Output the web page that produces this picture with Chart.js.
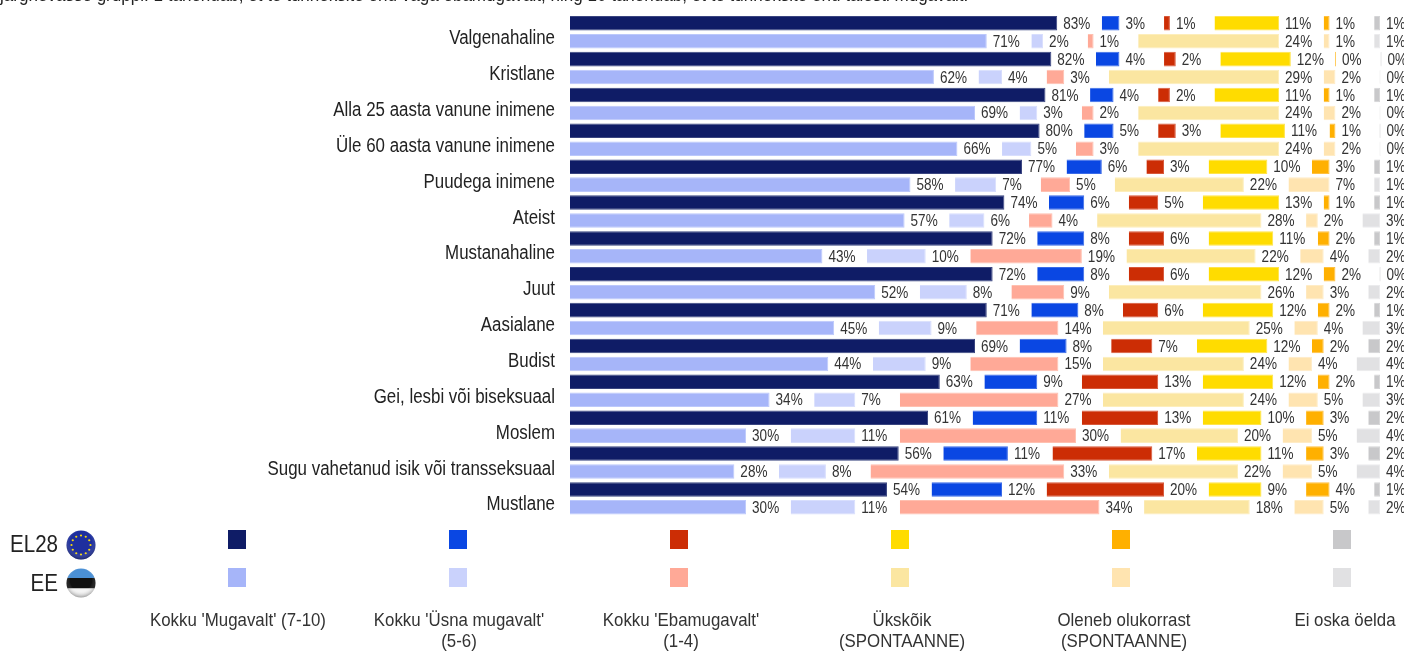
<!DOCTYPE html>
<html lang="et">
<head>
<meta charset="utf-8">
<title>Mugavustunne</title>
<script src="https://cdn.jsdelivr.net/npm/chart.js@4"></script>
<style>
  html, body { margin: 0; padding: 0; background: #fff; overflow: hidden; }
  #wrap { position: relative; width: 1404px; height: 651px; overflow: hidden; font-family: "Liberation Sans", sans-serif; color: #333; }
  #chart { position: absolute; left: 0; top: 0; }
  .question { position: absolute; left: 0; top: -15.5px; font-size: 19px; line-height: 20px; white-space: nowrap; color: #222; transform: scaleX(0.897); transform-origin: left; }
  .group { position: absolute; right: 1346px; font-size: 24px; line-height: 28px; color: #222; transform: scaleX(0.857); transform-origin: right; }
  .flag { position: absolute; left: 66px; width: 30px; height: 30px; }
  .swatch { position: absolute; width: 18.7px; height: 18.7px; }
  .legend-label { position: absolute; width: 240px; text-align: center; font-size: 19px; line-height: 21px; top: 609px; color: #333; transform: scaleX(0.887); }
</style>
</head>
<body>
<div id="wrap">
  <canvas id="chart" width="1404" height="651"></canvas>
  <div class="question">järgnevasse gruppi. 1 tähendab, et te tunneksite end väga ebamugavalt, ning 10 tähendab, et te tunneksite end täiesti mugavalt.</div>
  <div class="group" style="top:530px">EL28</div>
  <div class="group" style="top:569px">EE</div>
  <svg class="flag" style="top:530px" viewBox="0 0 30 30" id="flag-eu"></svg>
  <svg class="flag" style="top:568px" viewBox="0 0 30 30" id="flag-ee"></svg>
  <div id="legend"></div>
</div>
<script>
const categories = ['Valgenahaline', 'Kristlane', 'Alla 25 aasta vanune inimene', 'Üle 60 aasta vanune inimene', 'Puudega inimene', 'Ateist', 'Mustanahaline', 'Juut', 'Aasialane', 'Budist', 'Gei, lesbi või biseksuaal', 'Moslem', 'Sugu vahetanud isik või transseksuaal', 'Mustlane'];
const answers = ["Kokku 'Mugavalt' (7-10)", "Kokku 'Üsna mugavalt'<br>(5-6)", "Kokku 'Ebamugavalt'<br>(1-4)", 'Ükskõik<br>(SPONTAANNE)', 'Oleneb olukorrast<br>(SPONTAANNE)', 'Ei oska öelda'];

// EL28
const eu_mugavalt = [83, 82, 81, 80, 77, 74, 72, 72, 71, 69, 63, 61, 56, 54];
const eu_usna = [3, 4, 4, 5, 6, 6, 8, 8, 8, 8, 9, 11, 11, 12];
const eu_ebamugavalt = [1, 2, 2, 3, 3, 5, 6, 6, 6, 7, 13, 13, 17, 20];
const eu_ukskoik = [11, 12, 11, 11, 10, 13, 11, 12, 12, 12, 12, 10, 11, 9];
const eu_oleneb = [1, 0, 1, 1, 3, 1, 2, 2, 2, 2, 2, 3, 3, 4];
const eu_eioska = [1, 0, 1, 0, 1, 1, 1, 0, 1, 2, 1, 2, 2, 1];

// EE
const ee_mugavalt = [71, 62, 69, 66, 58, 57, 43, 52, 45, 44, 34, 30, 28, 30];
const ee_usna = [2, 4, 3, 5, 7, 6, 10, 8, 9, 9, 7, 11, 8, 11];
const ee_ebamugavalt = [1, 3, 2, 3, 5, 4, 19, 9, 14, 15, 27, 30, 33, 34];
const ee_ukskoik = [24, 29, 24, 24, 22, 28, 22, 26, 25, 24, 24, 20, 22, 18];
const ee_oleneb = [1, 2, 2, 2, 7, 2, 4, 3, 4, 4, 5, 5, 5, 5];
const ee_eioska = [1, 0, 0, 0, 1, 3, 2, 2, 3, 4, 3, 4, 4, 2];

const euColors = ['#0f1c66', '#0a47e3', '#cc2d05', '#ffdc00', '#ffb000', '#c8c8ca'];
const eeColors = ['#a6b5f9', '#cad2fc', '#ffa997', '#fbe6a1', '#ffe4b0', '#e1e1e3'];
const euEdges = ['#3a4580', '#3a6be8', '#d8583a', '#ffe44a', '#ffc040', '#d4d4d6'];
const eeEdges = ['#bcc8fb', '#d8defd', '#ffc0b0', '#fdeebb', '#ffecc6', '#ebebed'];
const labelGap = 7.6; // room left after each segment for its percent label

function stackDatasets(stack, series, colors, edges) {
  const out = [];
  series.forEach((data, i) => {
    out.push({ data, stack, backgroundColor: colors[i], borderColor: edges[i], borderWidth: 1, minBarLength: 1, isValue: true });
    if (i < series.length - 1) {
      out.push({ data: categories.map(() => labelGap), stack, backgroundColor: 'transparent', isValue: false });
    }
  });
  return out;
}

// the source uses a squeezed Arial, no narrow font is installed so scale it
function narrowText(ctx, text, x, y, squeeze) {
  ctx.save();
  ctx.translate(x, y);
  ctx.scale(squeeze, 1);
  ctx.fillText(text, 0, 0);
  ctx.restore();
}

const textLabels = {
  id: 'textLabels',
  afterDatasetsDraw(chart) {
    const ctx = chart.ctx;
    ctx.save();
    ctx.textBaseline = 'middle';

    ctx.font = '16.5px "Liberation Sans", sans-serif';
    ctx.fillStyle = '#333';
    ctx.textAlign = 'left';
    chart.data.datasets.forEach((ds, d) => {
      if (!ds.isValue) return;
      chart.getDatasetMeta(d).data.forEach((bar, i) => {
        narrowText(ctx, ds.data[i] + '%', bar.x + 6, bar.y + 1, 0.82);
      });
    });

    const yScale = chart.scales.y;
    ctx.font = '20px "Liberation Sans", sans-serif';
    ctx.fillStyle = '#222';
    ctx.textAlign = 'right';
    categories.forEach((name, i) => {
      narrowText(ctx, name, 555, yScale.getPixelForTick(i) + 6.5, 0.845);
    });
    ctx.restore();
  }
};

new Chart(document.getElementById('chart'), {
  type: 'bar',
  data: {
    labels: categories,
    datasets: [
      ...stackDatasets('EL28', [eu_mugavalt, eu_usna, eu_ebamugavalt, eu_ukskoik, eu_oleneb, eu_eioska], euColors, euEdges),
      ...stackDatasets('EE', [ee_mugavalt, ee_usna, ee_ebamugavalt, ee_ukskoik, ee_oleneb, ee_eioska], eeColors, eeEdges)
    ]
  },
  options: {
    indexAxis: 'y',
    responsive: false,
    animation: false,
    layout: { padding: { top: 14.3, bottom: 134.7 } },
    datasets: { bar: { categoryPercentage: 1, barPercentage: 0.81 } },
    plugins: { legend: { display: false }, tooltip: { enabled: false } },
    scales: {
      x: { display: false, stacked: true, min: 0, max: 142.08 },
      y: {
        stacked: true,
        border: { display: false },
        grid: { display: false, drawTicks: false },
        ticks: { display: false, autoSkip: false },
        afterFit(scale) {
          scale.width = 570;
          scale.paddingTop = 0;
          scale.paddingBottom = 0;
        }
      }
    }
  },
  plugins: [textLabels]
});

// legend: one column per answer, EL28 swatch over EE swatch, caption under both
const legend = document.getElementById('legend');
answers.forEach((text, i) => {
  const x = 227.5 + i * 221;
  const center = 238 + i * 221.4;
  legend.insertAdjacentHTML('beforeend',
    `<div class="swatch" style="left:${x}px;top:530px;background:${euColors[i]}"></div>` +
    `<div class="swatch" style="left:${x}px;top:568px;background:${eeColors[i]}"></div>` +
    `<div class="legend-label" style="left:${center - 120}px">${text}</div>`);
});

// flags
const gloss = `<defs><radialGradient id="shade" cx="50%" cy="40%" r="62%"><stop offset="0.6" stop-color="#fff" stop-opacity="0"/><stop offset="1" stop-color="#000" stop-opacity="0.4"/></radialGradient><clipPath id="round"><circle cx="15" cy="15" r="14.5"/></clipPath></defs>`;
let stars = '';
for (let a = 0; a < 12; a++) {
  const r = a * Math.PI / 6;
  stars += `<circle cx="${15 + 9.5 * Math.cos(r)}" cy="${15 + 9.5 * Math.sin(r)}" r="1.1" fill="#f5d90a"/>`;
}
document.getElementById('flag-eu').innerHTML = gloss +
  `<circle cx="15" cy="15" r="14.5" fill="#1e2f9e"/>${stars}<circle cx="15" cy="15" r="14.5" fill="url(#shade)"/>`;
document.getElementById('flag-ee').innerHTML =
  `<g clip-path="url(#round)"><rect width="30" height="10" fill="#4a90d6"/><rect y="10" width="30" height="10.5" fill="#111"/><rect y="20.5" width="30" height="9.5" fill="#f4f4f4"/></g><circle cx="15" cy="15" r="14.5" fill="url(#shade)"/>`;
</script>
</body>
</html>
